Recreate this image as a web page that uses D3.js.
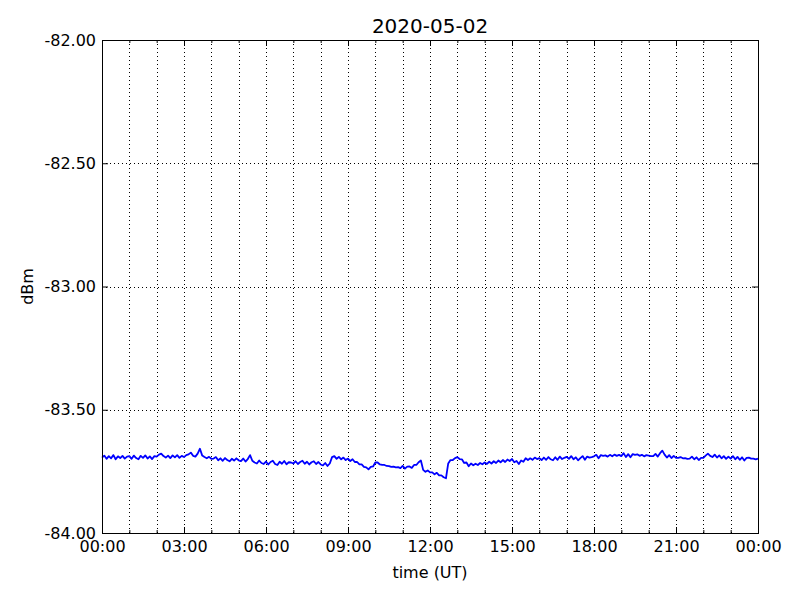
<!DOCTYPE html>
<html>
<head>
<meta charset="utf-8">
<script src="https://cdn.jsdelivr.net/npm/d3@7"></script>
<style>
  body { margin: 0; background: #fff; }
  svg { display: block; font-family: "DejaVu Sans", sans-serif; }
</style>
</head>
<body>
<svg id="chart" width="800" height="600"></svg>
<script>
// ---- data ----
const title = "2020-05-02";
const xLabel = "time (UT)";
const yLabel = "dBm";
const startTime = "2020-05-02T00:00:00Z";
const stepMinutes = 5;
// received signal (dBm), one value every 5 minutes, one row per hour
const signal = [
  -83.694,-83.686,-83.699,-83.688,-83.697,-83.684,-83.701,-83.689,-83.696,-83.687,-83.698,-83.690,
  -83.688,-83.699,-83.686,-83.696,-83.701,-83.687,-83.695,-83.685,-83.698,-83.689,-83.700,-83.688,
  -83.690,-83.682,-83.678,-83.688,-83.694,-83.686,-83.696,-83.685,-83.693,-83.684,-83.695,-83.687,
  -83.692,-83.684,-83.681,-83.674,-83.687,-83.690,-83.678,-83.658,-83.686,-83.692,-83.697,-83.691,
  -83.699,-83.698,-83.692,-83.705,-83.697,-83.707,-83.696,-83.704,-83.709,-83.699,-83.706,-83.697,
  -83.705,-83.708,-83.698,-83.710,-83.700,-83.684,-83.707,-83.714,-83.718,-83.706,-83.716,-83.720,
  -83.710,-83.722,-83.712,-83.707,-83.720,-83.724,-83.711,-83.719,-83.708,-83.721,-83.713,-83.714,
  -83.718,-83.709,-83.720,-83.712,-83.707,-83.719,-83.711,-83.722,-83.713,-83.709,-83.720,-83.712,
  -83.722,-83.726,-83.716,-83.728,-83.718,-83.692,-83.688,-83.699,-83.691,-83.701,-83.694,-83.704,
  -83.698,-83.708,-83.701,-83.712,-83.712,-83.722,-83.722,-83.732,-83.734,-83.742,-83.732,-83.730,
  -83.714,-83.714,-83.722,-83.724,-83.724,-83.728,-83.729,-83.732,-83.731,-83.734,-83.733,-83.737,
  -83.728,-83.739,-83.731,-83.730,-83.736,-83.724,-83.724,-83.713,-83.706,-83.744,-83.752,-83.746,
  -83.754,-83.754,-83.762,-83.756,-83.766,-83.766,-83.774,-83.778,-83.718,-83.704,-83.704,-83.696,
  -83.692,-83.700,-83.701,-83.716,-83.714,-83.729,-83.718,-83.725,-83.719,-83.724,-83.716,-83.721,
  -83.714,-83.720,-83.711,-83.718,-83.709,-83.716,-83.706,-83.713,-83.704,-83.712,-83.702,-83.708,
  -83.700,-83.713,-83.708,-83.720,-83.706,-83.711,-83.697,-83.704,-83.697,-83.703,-83.694,-83.700,
  -83.696,-83.704,-83.694,-83.703,-83.692,-83.701,-83.705,-83.693,-83.703,-83.690,-83.700,-83.695,
  -83.691,-83.699,-83.688,-83.701,-83.693,-83.705,-83.696,-83.688,-83.703,-83.690,-83.694,-83.692,
  -83.689,-83.683,-83.697,-83.684,-83.687,-83.685,-83.690,-83.683,-83.689,-83.682,-83.687,-83.683,
  -83.688,-83.676,-83.692,-83.680,-83.693,-83.680,-83.683,-83.681,-83.687,-83.683,-83.689,-83.684,
  -83.686,-83.688,-83.688,-83.679,-83.690,-83.676,-83.666,-83.682,-83.694,-83.684,-83.696,-83.687,
  -83.695,-83.695,-83.692,-83.697,-83.696,-83.699,-83.698,-83.690,-83.701,-83.693,-83.704,-83.695,
  -83.695,-83.686,-83.678,-83.687,-83.692,-83.682,-83.694,-83.685,-83.697,-83.688,-83.699,-83.690,
  -83.698,-83.688,-83.701,-83.691,-83.703,-83.693,-83.706,-83.695,-83.694,-83.698,-83.698,-83.701,
  -83.698
];
const yTicks = [-84.0, -83.5, -83.0, -82.5, -82.0];
const yDomain = [-84.0, -82.0];

// ---- layout ----
const svg = d3.select("#chart");
const mL = 102, mR = 758, mT = 40, mB = 533;

const t0 = new Date(startTime);
const t1 = d3.utcDay.offset(t0, 1);
const points = signal.map((v, i) => ({ t: d3.utcMinute.offset(t0, i * stepMinutes), v }));

const x = d3.scaleUtc().domain([t0, t1]).range([mL, mR]);
const y = d3.scaleLinear().domain(yDomain).range([mB, mT]);

const majorX = d3.utcHour.every(3).range(t0, d3.utcMinute.offset(t1, 1));
const minorX = d3.utcHour.every(1).range(t0, d3.utcMinute.offset(t1, 1));
const fmt = d3.utcFormat("%H:%M");
const yFmt = d3.formatLocale({ decimal: ".", thousands: ",", grouping: [3], currency: ["", ""], minus: "-" }).format(".2f");

// grid
const grid = svg.append("g").attr("stroke", "#000").attr("stroke-width", 1)
  .attr("stroke-dasharray", "1,3").attr("shape-rendering", "crispEdges");
grid.selectAll("line.v").data(minorX.filter(d => +d !== +t0 && +d !== +t1)).join("line")
  .attr("class", "v")
  .attr("x1", d => Math.round(x(d)) + 0.5).attr("x2", d => Math.round(x(d)) + 0.5)
  .attr("y1", mT).attr("y2", mB);
grid.selectAll("line.h").data(yTicks.slice(1, -1)).join("line")
  .attr("class", "h")
  .attr("y1", d => Math.round(y(d)) + 0.5).attr("y2", d => Math.round(y(d)) + 0.5)
  .attr("x1", mL).attr("x2", mR);

// data line
svg.append("path")
  .datum(points)
  .attr("fill", "none")
  .attr("stroke", "#0000ff")
  .attr("stroke-width", 1.8)
  .attr("stroke-linejoin", "round")
  .attr("d", d3.line().x(d => x(d.t)).y(d => y(d.v)));

// axes
function style(g) {
  g.select(".domain").remove();
  g.selectAll("line").attr("stroke", "#000");
  g.selectAll("text").attr("fill", "#000").attr("font-size", 16)
    .attr("font-family", "DejaVu Sans, sans-serif");
}
const xAxisB = d3.axisBottom(x).tickValues(majorX).tickFormat(fmt).tickSizeInner(-6).tickSizeOuter(0).tickPadding(8);
const xAxisBm = d3.axisBottom(x).tickValues(minorX).tickFormat("").tickSizeInner(-3).tickSizeOuter(0);
const xAxisT = d3.axisTop(x).tickValues(majorX).tickFormat("").tickSizeInner(-6).tickSizeOuter(0);
const xAxisTm = d3.axisTop(x).tickValues(minorX).tickFormat("").tickSizeInner(-3).tickSizeOuter(0);
const yAxisL = d3.axisLeft(y).tickValues(yTicks).tickFormat(yFmt).tickSizeInner(-6).tickSizeOuter(0).tickPadding(6);
const yAxisR = d3.axisRight(y).tickValues(yTicks).tickFormat("").tickSizeInner(-6).tickSizeOuter(0);

svg.append("g").attr("transform", `translate(0,${mB})`).call(xAxisB).call(style);
svg.append("g").attr("transform", `translate(0,${mB})`).call(xAxisBm).call(style);
svg.append("g").attr("transform", `translate(0,${mT})`).call(xAxisT).call(style);
svg.append("g").attr("transform", `translate(0,${mT})`).call(xAxisTm).call(style);
svg.append("g").attr("transform", `translate(${mL},0)`).call(yAxisL).call(style);
svg.append("g").attr("transform", `translate(${mR},0)`).call(yAxisR).call(style);

// frame
svg.append("rect")
  .attr("x", mL + 0.5).attr("y", mT + 0.5)
  .attr("width", mR - mL).attr("height", mB - mT)
  .attr("fill", "none").attr("stroke", "#000").attr("stroke-width", 1)
  .attr("shape-rendering", "crispEdges");

// labels
svg.append("text").attr("x", (mL + mR) / 2).attr("y", 33)
  .attr("text-anchor", "middle").attr("font-size", 20).text(title);
svg.append("text").attr("x", (mL + mR) / 2).attr("y", 578)
  .attr("text-anchor", "middle").attr("font-size", 16).text(xLabel);
svg.append("text").attr("transform", `translate(33,${(mT + mB) / 2}) rotate(-90)`)
  .attr("text-anchor", "middle").attr("font-size", 16).text(yLabel);
</script>
</body>
</html>
